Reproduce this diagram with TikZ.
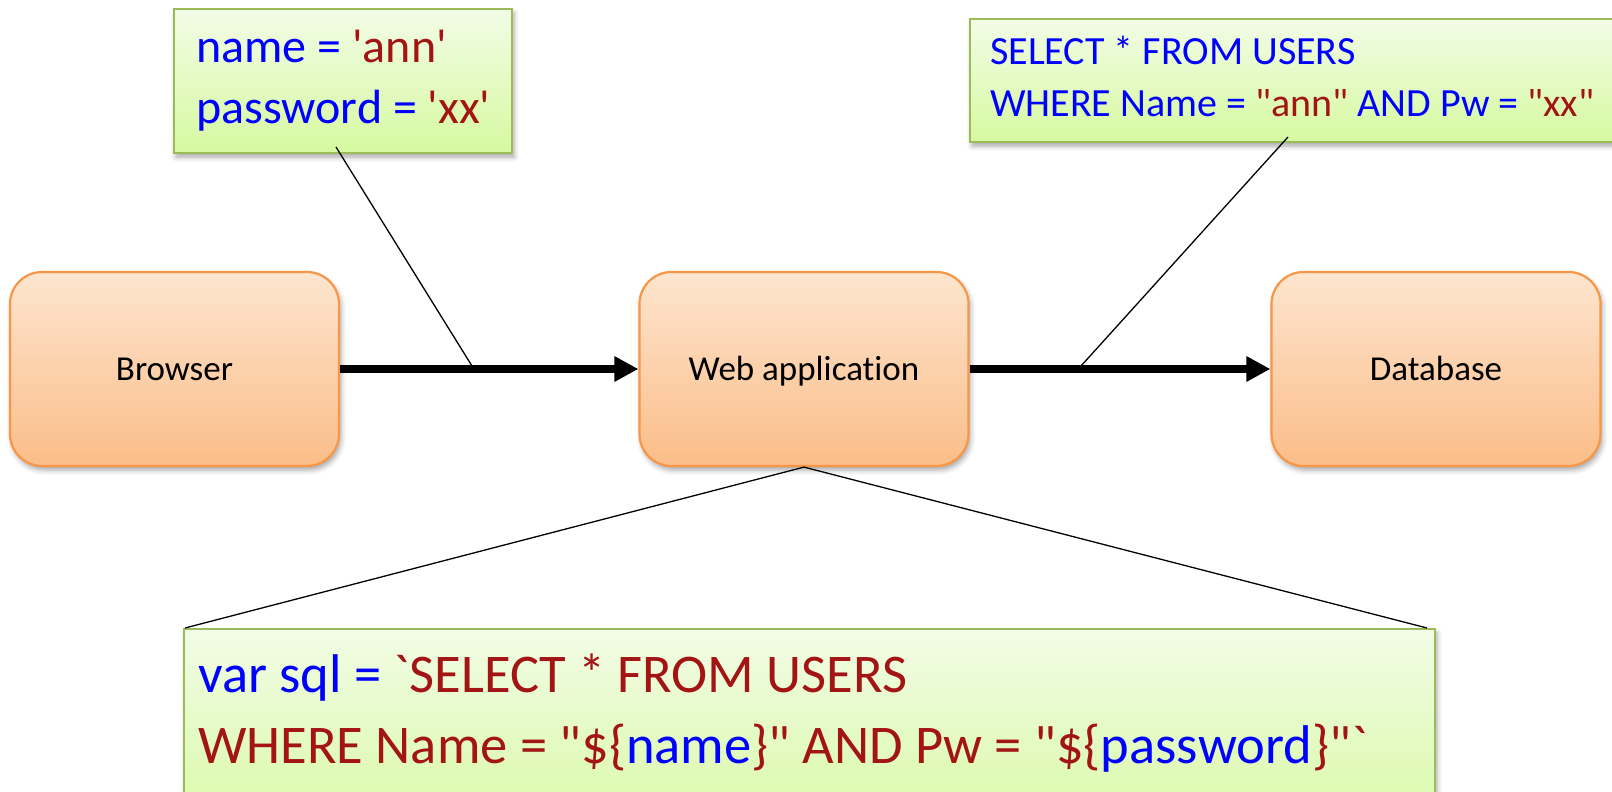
\documentclass[tikz,border=0pt]{standalone}
\usepackage{fontspec}
% a family without TeX ligatures, so ' " ` stay straight
\newfontfamily\calibri{Carlito}[Ligatures=NoCommon]
\usetikzlibrary{arrows.meta,shadows.blur,calc}
\definecolor{codeblue}{RGB}{0,0,255}
\definecolor{codered}{RGB}{163,21,21}
\definecolor{noteedge}{RGB}{155,187,89}
\definecolor{notetop}{RGB}{242,252,230}
\definecolor{notebot}{RGB}{214,249,160}
\definecolor{boxedge}{RGB}{247,150,70}
\definecolor{boxtop}{RGB}{253,229,207}
\definecolor{boxbot}{RGB}{251,189,136}
\begin{document}
\begin{tikzpicture}[x=1pt,y=-1pt,
  softshadow/.style={blur shadow={shadow xshift=2pt, shadow yshift=-4pt,
      shadow blur radius=5pt, shadow opacity=35}},
  stage/.style={draw=boxedge, line width=2.2pt, rounded corners=32pt,
      top color=boxtop, bottom color=boxbot, minimum width=329pt,
      minimum height=194pt, inner sep=0pt, font=\calibri\fontsize{35}{40}\selectfont,
      text height=22.5pt, text depth=0pt, softshadow},
  note/.style={draw=noteedge, line width=2pt, top color=notetop,
      bottom color=notebot, inner sep=0pt, anchor=north west, softshadow},
  flow/.style={line width=8pt, -{Triangle[length=24pt,width=24pt]}},
  lead/.style={line width=1.3pt},
  txt/.style={anchor=base west, inner sep=0pt}
]
\useasboundingbox (0,0) rectangle (1612,792);
\clip (0,0) rectangle (1612,792);

% note boxes
\node[note, minimum width=338pt, minimum height=144pt] (input) at (173,8) {};
\node[note, minimum width=700pt, minimum height=123pt] (query) at (969,18) {};
\node[note, minimum width=1251pt, minimum height=220pt] (code) at (183,628) {};

% note texts
\node[txt, font=\calibri\fontsize{48}{56}\selectfont] (in1) at (196,63)
  {\textcolor{codeblue}{name = }\textcolor{codered}{'ann'}};
\node[txt, font=\calibri\fontsize{48}{56}\selectfont] (in2) at (196,123)
  {\textcolor{codeblue}{password = }\textcolor{codered}{'xx'}};

\node[txt, font=\calibri\fontsize{40}{48}\selectfont, text=codeblue] (q1) at (990,65)
  {SELECT * FROM USERS};
\node[txt, font=\calibri\fontsize{40}{48}\selectfont, text=codeblue] (q2) at (990,117)
  {WHERE Name = \textcolor{codered}{"ann"} AND Pw = \textcolor{codered}{"xx"}};

\node[txt, font=\calibri\fontsize{54.5}{66}\selectfont, text=codered] (c1) at (198,692)
  {\textcolor{codeblue}{var sql = }`SELECT * FROM USERS};
\node[txt, font=\calibri\fontsize{54.5}{66}\selectfont, text=codered] (c2) at (198,763)
  {WHERE Name = "\$\{\textcolor{codeblue}{name}\}" AND Pw = "\$\{\textcolor{codeblue}{password}\}"`};

% stages
\node[stage] (browser) at (174.5,369) {Browser};
\node[stage] (webapp) at (804,369) {Web application};
\node[stage] (db) at (1436,369) {Database};

% flows
\draw[flow] (browser.east) -- (webapp.west);
\draw[flow] (webapp.east) -- (db.west);

% leader lines
\coordinate (inTop) at (336,147);
\coordinate (inFoot) at (472,366);
\coordinate (qTop) at (1288,137);
\coordinate (qFoot) at (1081,366);
\coordinate (codeL) at (185,628);
\coordinate (codeR) at (1427,628);
\draw[lead] (inTop) -- (inFoot);
\draw[lead] (qTop) -- (qFoot);
\draw[lead] (codeL) -- (webapp.south) -- (codeR);
\end{tikzpicture}
\end{document}
